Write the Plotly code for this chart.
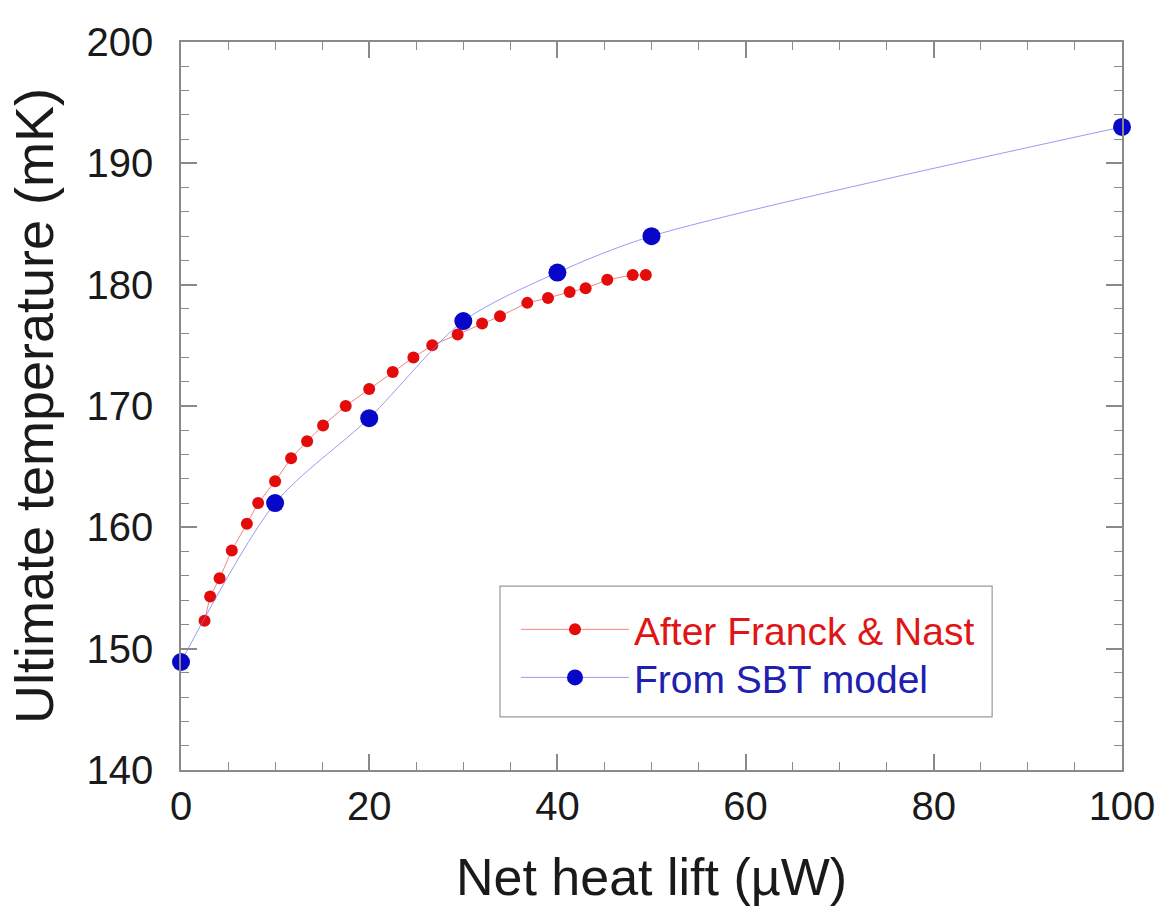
import plotly.graph_objects as go

# Franck & Nast curve (net heat lift in µW, ultimate temperature in mK)
fn_heat = [2.5, 3.1, 4.1, 5.4, 7.0, 8.2, 10.0, 11.7, 13.4, 15.1, 17.5, 20.0,
           22.5, 24.7, 26.7, 29.4, 32.0, 33.9, 36.8, 39.0, 41.3, 43.0, 45.3,
           48.0, 49.4]
fn_temp = [152.3, 154.3, 155.8, 158.1, 160.3, 162.0, 163.8, 165.7, 167.1,
           168.4, 170.0, 171.4, 172.8, 174.0, 175.0, 175.9, 176.8, 177.4,
           178.5, 178.9, 179.4, 179.7, 180.4, 180.8, 180.8]

# SBT model points
sbt_heat = [0, 10, 20, 30, 40, 50, 100]
sbt_temp = [148.9, 162, 169, 177, 181, 184, 193]

x_ticks = [0, 20, 40, 60, 80, 100]
y_ticks = [140, 150, 160, 170, 180, 190, 200]

FONT = "Liberation Sans, Arial, Helvetica, sans-serif"
AXIS_GREY = "#8a8a8a"
RED_TEXT = "#e01515"
BLUE_TEXT = "#2020b0"

fig = go.Figure()

fig.add_trace(go.Scatter(
    x=fn_heat, y=fn_temp, mode="lines+markers",
    name="After Franck & Nast", legend="legend",
    line=dict(color="rgba(240,90,90,0.75)", width=1),
    marker=dict(color="#e40b0b", size=12),
    cliponaxis=False,
))

fig.add_trace(go.Scatter(
    x=sbt_heat, y=sbt_temp, mode="lines+markers",
    name="From SBT model", legend="legend2",
    line=dict(color="rgba(120,120,240,0.75)", width=1, shape="spline", smoothing=0.8),
    marker=dict(color="#0707c8", size=18),
    cliponaxis=False,
))

axis_common = dict(
    showgrid=False, zeroline=False,
    showline=True, linecolor=AXIS_GREY, linewidth=1.5, mirror="allticks",
    ticks="inside", ticklen=16, tickwidth=1.5, tickcolor=AXIS_GREY,
    tickfont=dict(family=FONT, size=40, color="#1a1a1a"),
)

fig.update_xaxes(
    range=[0, 100], tickvals=x_ticks,
    minor=dict(dtick=5, ticks="inside", ticklen=8, tickwidth=1, tickcolor=AXIS_GREY),
    title=dict(text="Net heat lift (µW)", font=dict(family=FONT, size=52, color="#1a1a1a"),
               standoff=32),
    ticklabelstandoff=0,
    **axis_common,
)
fig.update_yaxes(
    range=[140, 200], tickvals=y_ticks,
    minor=dict(dtick=2, ticks="inside", ticklen=8, tickwidth=1, tickcolor=AXIS_GREY),
    title=dict(text="Ultimate temperature (mK)", font=dict(family=FONT, size=54, color="#1a1a1a"),
               standoff=16),
    ticklabelstandoff=18,
    **axis_common,
)

legend_common = dict(
    xanchor="left", yanchor="middle",
    bgcolor="rgba(0,0,0,0)", borderwidth=0,
    itemwidth=108,
)

fig.update_layout(
    width=1167, height=912,
    margin=dict(l=181, r=42, t=42, b=142),
    paper_bgcolor="white", plot_bgcolor="white",
    showlegend=True,
    legend=dict(x=0.356, y=0.193, font=dict(family=FONT, size=39, color=RED_TEXT),
                **legend_common),
    legend2=dict(x=0.356, y=0.127, font=dict(family=FONT, size=39, color=BLUE_TEXT),
                 **legend_common),
    shapes=[dict(
        type="rect", xref="paper", yref="paper",
        x0=0.339, x1=0.862, y0=0.073, y1=0.2527,
        line=dict(color="#9a9a9a", width=1.2), fillcolor="rgba(0,0,0,0)",
    )],
)

fig.write_html("out.html", include_plotlyjs=True)
